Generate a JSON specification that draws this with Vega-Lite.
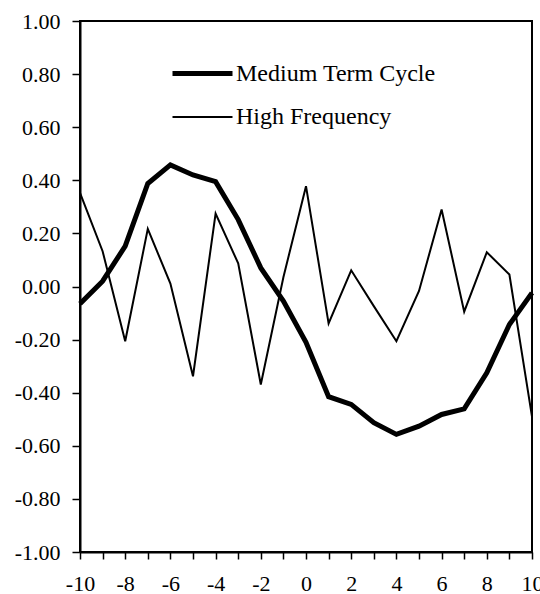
{
  "$schema": "https://vega.github.io/schema/vega-lite/v6.json",
  "width": 452,
  "height": 531,
  "autosize": "none",
  "padding": {"left": 80, "top": 21, "right": 8, "bottom": 42},
  "background": "white",
  "config": {
    "view": {"stroke": "black", "strokeWidth": 2},
    "font": "Liberation Serif",
    "axis": {"labelFont": "Liberation Serif", "labelFontSize": 22, "labelColor": "black", "domainColor": "black", "domainWidth": 2, "tickColor": "black", "tickWidth": 1.5, "grid": false, "title": null}
  },
  "datasets": {
    "series": [
      {"x": -10, "s": "Medium Term Cycle", "v": -0.065},
      {"x": -9, "s": "Medium Term Cycle", "v": 0.02},
      {"x": -8, "s": "Medium Term Cycle", "v": 0.152},
      {"x": -7, "s": "Medium Term Cycle", "v": 0.388},
      {"x": -6, "s": "Medium Term Cycle", "v": 0.458},
      {"x": -5, "s": "Medium Term Cycle", "v": 0.42},
      {"x": -4, "s": "Medium Term Cycle", "v": 0.395},
      {"x": -3, "s": "Medium Term Cycle", "v": 0.252},
      {"x": -2, "s": "Medium Term Cycle", "v": 0.07},
      {"x": -1, "s": "Medium Term Cycle", "v": -0.055},
      {"x": 0, "s": "Medium Term Cycle", "v": -0.21},
      {"x": 1, "s": "Medium Term Cycle", "v": -0.415},
      {"x": 2, "s": "Medium Term Cycle", "v": -0.444},
      {"x": 3, "s": "Medium Term Cycle", "v": -0.513},
      {"x": 4, "s": "Medium Term Cycle", "v": -0.557},
      {"x": 5, "s": "Medium Term Cycle", "v": -0.526},
      {"x": 6, "s": "Medium Term Cycle", "v": -0.482},
      {"x": 7, "s": "Medium Term Cycle", "v": -0.461},
      {"x": 8, "s": "Medium Term Cycle", "v": -0.325},
      {"x": 9, "s": "Medium Term Cycle", "v": -0.143},
      {"x": 10, "s": "Medium Term Cycle", "v": -0.024},
      {"x": -10, "s": "High Frequency", "v": 0.353},
      {"x": -9, "s": "High Frequency", "v": 0.133},
      {"x": -8, "s": "High Frequency", "v": -0.206},
      {"x": -7, "s": "High Frequency", "v": 0.217},
      {"x": -6, "s": "High Frequency", "v": 0.011},
      {"x": -5, "s": "High Frequency", "v": -0.338},
      {"x": -4, "s": "High Frequency", "v": 0.275},
      {"x": -3, "s": "High Frequency", "v": 0.087},
      {"x": -2, "s": "High Frequency", "v": -0.369},
      {"x": -1, "s": "High Frequency", "v": 0.035},
      {"x": 0, "s": "High Frequency", "v": 0.378},
      {"x": 1, "s": "High Frequency", "v": -0.139},
      {"x": 2, "s": "High Frequency", "v": 0.061},
      {"x": 3, "s": "High Frequency", "v": -0.074},
      {"x": 4, "s": "High Frequency", "v": -0.206},
      {"x": 5, "s": "High Frequency", "v": -0.017},
      {"x": 6, "s": "High Frequency", "v": 0.29},
      {"x": 7, "s": "High Frequency", "v": -0.095},
      {"x": 8, "s": "High Frequency", "v": 0.129},
      {"x": 9, "s": "High Frequency", "v": 0.045},
      {"x": 10, "s": "High Frequency", "v": -0.49}
    ]
  },
  "layer": [
    {
      "mark": {"type": "rule", "color": "black", "strokeWidth": 2},
      "encoding": {"y": {"datum": 0, "type": "quantitative"}}
    },
    {
      "data": {"name": "series"},
      "mark": {"type": "line", "color": "black", "strokeJoin": "miter"},
      "encoding": {
        "x": {
          "field": "x", "type": "quantitative",
          "scale": {"domain": [-10, 10], "nice": false, "zero": false},
          "axis": {"values": [-10,-9,-8,-7,-6,-5,-4,-3,-2,-1,0,1,2,3,4,5,6,7,8,9,10], "labelExpr": "datum.value % 2 == 0 ? (datum.value < 0 ? '-' + format(-datum.value, 'd') : format(datum.value, 'd')) : ''", "tickSize": 7, "labelPadding": 14, "labelFlush": false, "labelOverlap": false, "labelBound": false}
        },
        "y": {
          "field": "v", "type": "quantitative",
          "scale": {"domain": [-1, 1], "nice": false},
          "axis": {"values": [-1,-0.8,-0.6,-0.4,-0.2,0,0.2,0.4,0.6,0.8,1], "labelExpr": "datum.value < -0.001 ? '-' + format(-datum.value, '.2f') : format(abs(datum.value), '.2f')", "tickSize": 8, "labelPadding": 12, "labelFlush": false, "labelOverlap": false}
        },
        "detail": {"field": "s"},
        "strokeWidth": {
          "field": "s", "type": "nominal",
          "scale": {"domain": ["Medium Term Cycle", "High Frequency"], "range": [5, 2]},
          "legend": {
            "title": null, "orient": "none", "legendX": 90, "legendY": 20,
            "symbolType": "stroke", "symbolSize": 3600, "symbolStrokeColor": "black",
            "labelFont": "Liberation Serif", "labelFontSize": 24, "labelColor": "black", "labelOffset": 1,
            "labelLimit": 400, "rowPadding": -6
          }
        }
      }
    }
  ]
}
